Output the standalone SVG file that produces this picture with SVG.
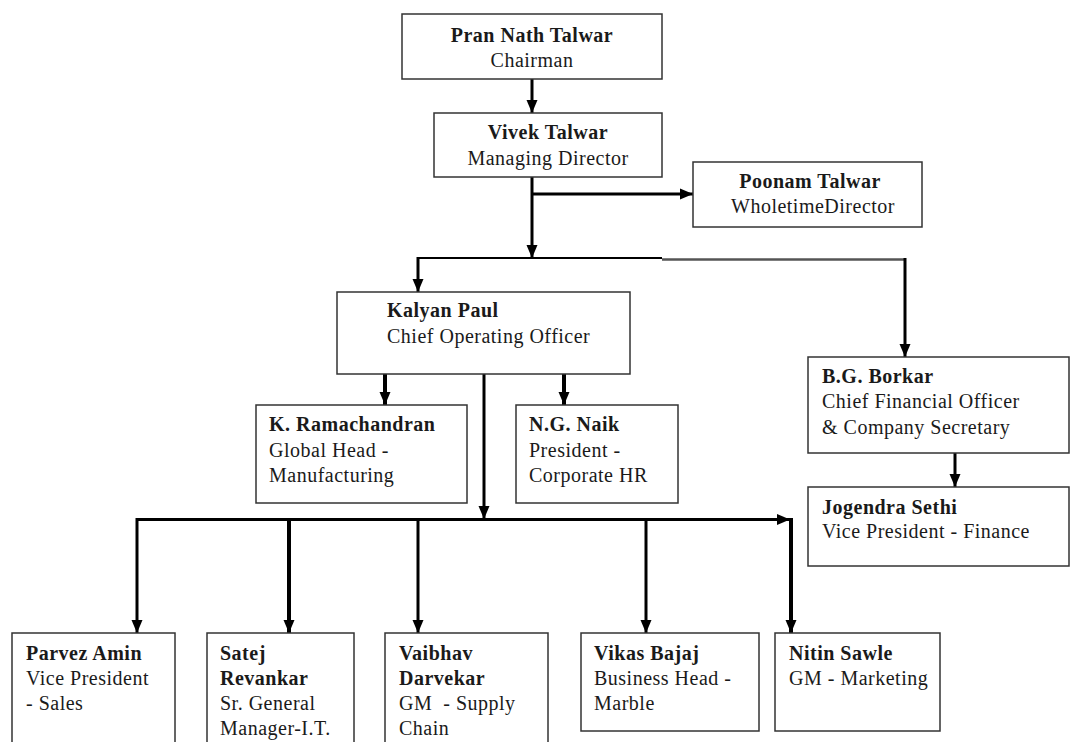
<svg xmlns="http://www.w3.org/2000/svg" width="1072" height="742" viewBox="0 0 1072 742">
<defs>
<style>
.box{fill:#fff;stroke:#333;stroke-width:1.5}
text{font-family:"Liberation Serif","Times New Roman",serif;font-size:20px;fill:#1a1a1a;letter-spacing:0.5px}
.b{font-weight:bold}
.c{text-anchor:middle}
.ln{fill:none;stroke:#000;stroke-width:3}
.thin{fill:none;stroke:#000;stroke-width:2}
.grey{fill:none;stroke:#555;stroke-width:2.5}
.thick{fill:none;stroke:#000;stroke-width:4}
</style>
<marker id="ah" markerUnits="userSpaceOnUse" markerWidth="14" markerHeight="14" viewBox="0 0 14 14" refX="13" refY="7" orient="auto">
<path d="M0,1.5 L13,7 L0,12.5 Z" fill="#000"/>
</marker>
</defs>
<rect width="1072" height="742" fill="#fff"/>

<g id="connectors">
<path class="ln" d="M532,79 V113" marker-end="url(#ah)"/>
<path class="ln" d="M532,177 V258" marker-end="url(#ah)"/>
<path class="ln" d="M532,194 H693" marker-end="url(#ah)"/>
<path class="thin" d="M418,258 H662"/>
<path class="grey" d="M662,259.5 H905"/>
<path class="ln" d="M905,258 V357" marker-end="url(#ah)"/>
<path class="ln" d="M418,257 V292" marker-end="url(#ah)"/>
<path class="thick" d="M385,374 V405" marker-end="url(#ah)"/>
<path class="thick" d="M564,374 V405" marker-end="url(#ah)"/>
<path class="ln" d="M484,374 V519" marker-end="url(#ah)"/>
<path class="ln" d="M955,453 V487" marker-end="url(#ah)"/>
<path class="ln" d="M136,519.5 H790" marker-end="url(#ah)"/>
<path class="ln" d="M137,518 V633" marker-end="url(#ah)"/>
<path class="thick" d="M289,518 V633" marker-end="url(#ah)"/>
<path class="ln" d="M418,518 V633" marker-end="url(#ah)"/>
<path class="ln" d="M646,518 V633" marker-end="url(#ah)"/>
<path class="thick" d="M791,518 V633" marker-end="url(#ah)"/>
</g>

<g id="n-pran">
<rect class="box" x="402" y="14" width="260" height="65"/>
<text class="b c" x="532" y="42">Pran Nath Talwar</text>
<text class="c" x="532" y="67">Chairman</text>
</g>
<g id="n-vivek">
<rect class="box" x="434" y="113" width="228" height="64"/>
<text class="b c" x="548" y="139">Vivek Talwar</text>
<text class="c" x="548" y="165">Managing Director</text>
</g>
<g id="n-poonam">
<rect class="box" x="693" y="162" width="229" height="65"/>
<text class="b c" x="810" y="188">Poonam Talwar</text>
<text class="c" x="813" y="213">WholetimeDirector</text>
</g>
<g id="n-kalyan">
<rect class="box" x="337" y="292" width="293" height="82"/>
<text class="b" x="387" y="317">Kalyan Paul</text>
<text x="387" y="343">Chief Operating Officer</text>
</g>
<g id="n-borkar">
<rect class="box" x="808" y="357" width="261" height="96"/>
<text class="b" x="822" y="383">B.G. Borkar</text>
<text x="822" y="408">Chief Financial Officer</text>
<text x="822" y="434">&amp; Company Secretary</text>
</g>
<g id="n-jogendra">
<rect class="box" x="808" y="487" width="261" height="79"/>
<text class="b" x="822" y="514">Jogendra Sethi</text>
<text x="822" y="538">Vice President - Finance</text>
</g>
<g id="n-ramachandran">
<rect class="box" x="256" y="405" width="211" height="98"/>
<text class="b" x="269" y="431">K. Ramachandran</text>
<text x="269" y="457">Global Head -</text>
<text x="269" y="482">Manufacturing</text>
</g>
<g id="n-naik">
<rect class="box" x="516" y="405" width="162" height="98"/>
<text class="b" x="529" y="431">N.G. Naik</text>
<text x="529" y="457">President -</text>
<text x="529" y="482">Corporate HR</text>
</g>
<g id="n-parvez">
<rect class="box" x="12" y="633" width="163" height="120"/>
<text class="b" x="26" y="660">Parvez Amin</text>
<text x="26" y="685">Vice President</text>
<text x="26" y="710">- Sales</text>
</g>
<g id="n-satej">
<rect class="box" x="207" y="633" width="147" height="120"/>
<text class="b" x="220" y="660">Satej</text>
<text class="b" x="220" y="685">Revankar</text>
<text x="220" y="710">Sr. General</text>
<text x="220" y="735">Manager-I.T.</text>
</g>
<g id="n-vaibhav">
<rect class="box" x="385" y="633" width="163" height="120"/>
<text class="b" x="399" y="660">Vaibhav</text>
<text class="b" x="399" y="685">Darvekar</text>
<text x="399" y="710" xml:space="preserve">GM  - Supply</text>
<text x="399" y="735">Chain</text>
</g>
<g id="n-vikas">
<rect class="box" x="581" y="633" width="178" height="98"/>
<text class="b" x="594" y="660">Vikas Bajaj</text>
<text x="594" y="685">Business Head -</text>
<text x="594" y="710">Marble</text>
</g>
<g id="n-nitin">
<rect class="box" x="775" y="633" width="165" height="98"/>
<text class="b" x="789" y="660">Nitin Sawle</text>
<text x="789" y="685">GM - Marketing</text>
</g>
</svg>
